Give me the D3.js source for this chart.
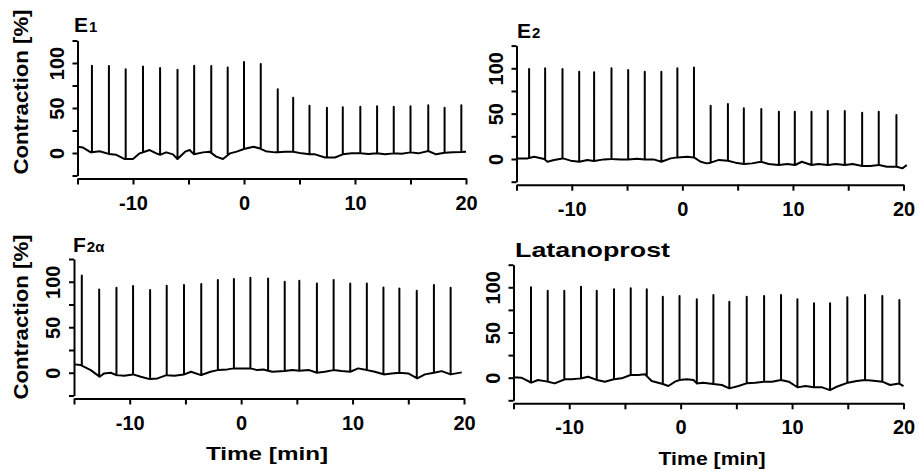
<!DOCTYPE html>
<html>
<head>
<meta charset="utf-8">
<script src="https://cdn.jsdelivr.net/npm/d3@7"></script>
<style>
  body { margin: 0; background: #fff; }
  svg text { font-family: "Liberation Sans", Arial, sans-serif; font-weight: bold; fill: #000; }
</style>
</head>
<body>
<svg id="chart" width="919" height="471"></svg>
<script>
// axis ticks (minutes / % contraction)
const xTicks = [-15, -10, -5, 0, 5, 10, 15, 20];
const xTickLabels = [-10, 0, 10, 20];
const yTicks = [-25, 0, 25, 50, 75, 100, 125];
const yTickLabels = [0, 50, 100];

// E1 : baseline trace and spike peaks
const e1BaseT = [-15, -14.5, -13.8, -13.0, -12.2, -11.5, -10.75, -10.0, -9.4, -8.5, -7.9, -7.56, -7.0, -6.4, -6.0, -5.3, -4.9, -4.5, -3.7, -3.1, -2.5, -1.9, -1.26, -0.66, 0, 0.85, 1.45, 1.95, 2.8, 3.7, 4.4, 5.2, 5.9, 6.4, 7.3, 8.2, 8.9, 9.7, 10.5, 11.2, 12.0, 12.7, 13.5, 14.2, 15.0, 15.7, 16.6, 17.3, 18.1, 18.8, 20.0];
const e1BaseV = [7, 6, 0.7, 2, -1, -2, -6.7, -6.7, -0.4, 3.3, -0.4, -2, 0.7, -1.5, -6.7, 1.5, 3.3, -1.5, 0.7, 1.5, -4, -6.7, -0.4, 1.5, 4.4, 7, 5, 2, 0.7, 1.5, 1.5, -0.4, -1.5, -1.5, -5, -5, -1.5, -0.4, -0.4, -1, -0.4, -1.5, -0.4, -0.8, 0.7, -0.4, 2.2, -1.5, 0.4, 0.7, 1.5];
const e1SpikeT = [-13.7, -12.17, -10.66, -9.1, -7.56, -5.99, -4.49, -2.95, -1.47, 0, 1.51, 3.04, 4.43, 5.9, 7.47, 8.9, 10.48, 11.99, 13.49, 15.0, 16.6, 18.07, 19.58];
const e1SpikeV = [97, 96.7, 93, 96, 94.4, 92.6, 97, 96.7, 95, 101, 99, 70.8, 61.5, 52.6, 50.4, 50.7, 51.5, 52, 51.5, 52, 53, 50.4, 53];

// E2
const e2BaseT = [-15, -14.0, -13.4, -12.5, -12.2, -11.6, -10.8, -10.1, -9.3, -8.6, -8.0, -7.1, -6.4, -5.6, -4.9, -4.1, -3.4, -2.6, -1.9, -1.06, -0.45, 0.45, 1.05, 1.65, 2.2, 2.56, 3.3, 4.1, 4.8, 5.6, 6.3, 7.1, 7.8, 8.7, 9.5, 10.2, 10.8, 11.7, 12.3, 13.2, 13.85, 14.7, 15.4, 16.3, 17.0, 17.8, 18.5, 19.4, 19.9, 20.3];
const e2BaseV = [0.7, 0.7, 2.6, 0, -3, -1, 0.7, -1.8, -3, -1, -2.2, -0.4, 0, -0.4, -0.4, 0.4, -0.4, -0.4, -3, 0.7, 1.8, 2.6, 1.8, -3, -4.8, -4, -1, -1.8, -4, -5.5, -4.8, -3, -5.5, -6.6, -5.5, -6.6, -3, -6.6, -5.5, -6.6, -5.5, -6.6, -5.5, -7.7, -7.7, -6.6, -8.5, -8.5, -10.3, -6.6];
const e2SpikeT = [-13.86, -12.41, -10.84, -9.33, -7.98, -6.41, -4.9, -3.4, -1.9, -0.45, 1.05, 2.56, 4.12, 5.56, 7.14, 8.73, 10.17, 11.68, 13.15, 14.69, 16.26, 17.76, 19.36];
const e2SpikeV = [99.2, 100, 99.2, 96.3, 95.6, 100, 98.1, 96.3, 96.3, 100, 101, 58.8, 60.6, 55.9, 55.1, 52.2, 52.2, 52.2, 52.9, 52.9, 51, 52.2, 48.5];

// F2alpha
const f2BaseT = [-15, -14.4, -13.5, -12.7, -12.3, -11.7, -11.2, -10.5, -9.7, -9.0, -8.2, -7.5, -6.7, -6.0, -5.1, -4.5, -3.6, -2.75, -2.1, -1.25, -0.65, 0.83, 1.43, 2.0, 2.8, 3.9, 4.6, 5.2, 6.1, 6.8, 7.5, 8.3, 9.0, 9.8, 10.5, 11.3, 12.0, 12.8, 13.5, 14.2, 15.0, 15.8, 16.5, 17.3, 18.0, 18.8, 19.8];
const f2BaseV = [9.2, 8.4, 2.9, -4.4, -0.7, 0, -2.6, -3.3, -1.8, -4.4, -7, -6.2, -2.6, -3.3, -1.8, 1.1, -2.6, 1.1, 2.9, 3.7, 4.8, 4.8, 2.9, 3.5, 1.1, 1.8, 2.9, 2.2, 2.9, 0, 1.1, 2.9, 1.8, 1.1, 4.8, 2.9, 1.1, -1.8, -0.7, 0, -0.7, -6.2, -1.8, 0, 1.8, -1.8, 0.4];
const f2SpikeT = [-14.3, -12.74, -11.19, -9.7, -8.17, -6.68, -5.13, -3.58, -2.09, -0.65, 0.83, 2.42, 3.91, 5.22, 6.8, 8.3, 9.79, 11.28, 12.77, 14.2, 15.76, 17.3, 18.8];
const f2SpikeV = [107, 91.6, 93.4, 95.3, 90.9, 95.6, 96.4, 97.5, 101.9, 103, 104.4, 103.7, 100, 101, 98.2, 101.9, 98.2, 98.2, 93.8, 92.7, 90.1, 96.4, 93.4];

// Latanoprost
const latBaseT = [-15.0, -14.3, -13.4, -12.8, -11.9, -11.3, -10.4, -9.8, -8.9, -8.3, -7.5, -6.8, -6.0, -5.3, -4.5, -3.8, -3.2, -2.6, -1.6, -1.1, -0.5, -0.1, 0.55, 1.15, 1.45, 2.0, 2.94, 3.7, 4.37, 5.2, 5.9, 6.7, 7.5, 8.2, 9.0, 9.7, 10.5, 11.2, 12.0, 12.7, 13.4, 14.0, 15.0, 15.8, 16.55, 17.3, 18.1, 18.8, 19.6, 20.0];
const latBaseV = [0.4, 0, -5.5, -2.6, -4.4, -6.3, -1.8, -1.8, -0.7, 1.1, -2.6, -4.4, -1.8, -0.7, 3, 3, 3.7, -3.7, -7, -9.2, -4.4, -2.6, -1.8, -2.6, -6.3, -5.5, -7, -8.1, -11.8, -9.2, -6.3, -5.5, -4.4, -4.4, -2.6, -4.4, -10.7, -9.2, -10.7, -10.7, -13.7, -10, -5.5, -3.7, -2.6, -3.3, -4.4, -8.1, -6.3, -9.2];
const latSpikeT = [-13.43, -11.93, -10.44, -8.94, -7.53, -5.98, -4.48, -3.04, -1.6, -0.1, 1.45, 2.94, 4.37, 5.93, 7.49, 9.01, 10.48, 11.97, 13.41, 14.96, 16.55, 18.1, 19.63];
const latSpikeV = [100, 96.2, 96.2, 100.7, 96.2, 97.8, 98.9, 97.8, 89.6, 90.3, 86.7, 91.5, 84.1, 89.6, 90.4, 91.5, 86.7, 82.3, 82.3, 88.9, 91.5, 90.4, 86];

// panel placement (pixels)
const panels = [
  { baseT: e1BaseT, baseV: e1BaseV, spikeT: e1SpikeT, spikeV: e1SpikeV,
    x0: 77.5, x1: 466, yTop: 40.5, yBot: 175.5, title: ['E', '1'], tx: 74, ty: 32 },
  { baseT: e2BaseT, baseV: e2BaseV, spikeT: e2SpikeT, spikeV: e2SpikeV,
    x0: 516.5, x1: 903.5, yTop: 45.6, yBot: 181.7, title: ['E', '2'], tx: 517, ty: 38 },
  { baseT: f2BaseT, baseV: f2BaseV, spikeT: f2SpikeT, spikeV: f2SpikeV,
    x0: 74, x1: 464, yTop: 259, yBot: 395.5, title: ['F', '2\u03b1'], tx: 73, ty: 252 },
  { baseT: latBaseT, baseV: latBaseV, spikeT: latSpikeT, spikeV: latSpikeV,
    x0: 513.5, x1: 903.5, yTop: 264.7, yBot: 400.3, title: ['Latanoprost'], tx: 515, ty: 257 }
];

const svg = d3.select('#chart');

function drawPanel(p) {
  let x = d3.scaleLinear().domain([-15, 20]).range([p.x0, p.x1]);
  let y = d3.scaleLinear().domain([-25, 125]).range([p.yBot, p.yTop]);
  let g = svg.append('g');

  // y axis, labels rotated
  let ya = g.append('g')
    .attr('transform', 'translate(' + p.x0 + ',0)')
    .call(d3.axisLeft(y).tickValues(yTicks).tickSize(5).tickSizeOuter(0)
      .tickFormat(d => yTickLabels.includes(d) ? String(d) : ''));
  ya.selectAll('text')
    .attr('x', 0).attr('dy', 0)
    .attr('text-anchor', 'middle')
    .attr('transform', 'translate(-14,0) rotate(-90)')
    .style('font-size', '20px');

  // x axis, slightly below the y axis end
  let xa = g.append('g')
    .attr('transform', 'translate(0,' + (p.yBot + 3) + ')')
    .call(d3.axisBottom(x).tickValues(xTicks).tickSize(6).tickSizeOuter(0).tickPadding(11)
      .tickFormat(d => xTickLabels.includes(d) ? String(d) : ''));
  xa.selectAll('text').style('font-size', '20px');

  g.selectAll('.domain, .tick line').attr('stroke', '#000').attr('stroke-width', 2);

  // trace: baseline with spikes rising from it
  let foot = d3.scaleLinear().domain(p.baseT).range(p.baseV).clamp(true);
  let pts = p.baseT.map((t, i) => [t, p.baseV[i]]);
  p.spikeT.forEach((t, i) => {
    pts.push([t, foot(t)], [t, p.spikeV[i]], [t, foot(t)]);
  });
  pts.sort((a, b) => a[0] - b[0]);

  let line = d3.line().x(d => x(d[0])).y(d => y(d[1]));
  g.append('path')
    .datum(pts)
    .attr('d', line)
    .attr('fill', 'none')
    .attr('stroke', '#000')
    .attr('stroke-width', 2)
    .attr('stroke-linejoin', 'round');

  // panel title
  let t = g.append('text').attr('x', p.tx).attr('y', p.ty);
  if (p.title.length > 1) {
    t.append('tspan').style('font-size', '21px').text(p.title[0]);
    t.append('tspan').attr('dx', 1).style('font-size', '15px').text(p.title[1]);
  } else {
    t.style('font-size', '21px')
      .attr('textLength', 155).attr('lengthAdjust', 'spacingAndGlyphs')
      .text(p.title[0]);
  }
}

panels.forEach(drawPanel);

// shared axis titles
[[28, 92], [28, 317]].forEach(c => {
  svg.append('text')
    .attr('transform', 'translate(' + c[0] + ',' + c[1] + ') rotate(-90)')
    .attr('text-anchor', 'middle')
    .style('font-size', '21px')
    .attr('textLength', 165).attr('lengthAdjust', 'spacingAndGlyphs')
    .text('Contraction [%]');
});

[[267, 460, 122], [712, 465, 107]].forEach(c => {
  svg.append('text')
    .attr('x', c[0]).attr('y', c[1])
    .attr('text-anchor', 'middle')
    .style('font-size', '19px')
    .attr('textLength', c[2]).attr('lengthAdjust', 'spacingAndGlyphs')
    .text('Time [min]');
});
</script>
</body>
</html>
